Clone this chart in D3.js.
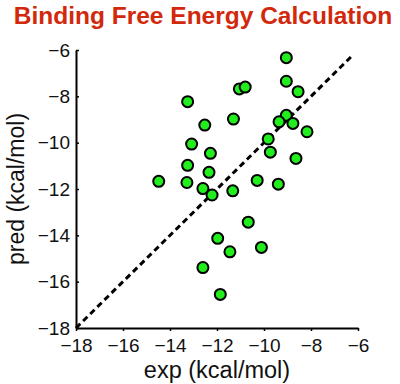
<!DOCTYPE html>
<html>
<head>
<meta charset="utf-8">
<script src="https://cdn.jsdelivr.net/npm/d3@7"></script>
<style>
  body { margin: 0; background: #fff; }
  svg { display: block; font-family: "Liberation Sans", Arial, sans-serif; }
</style>
</head>
<body>
<div id="wrapper"></div>
<script>
// experimental vs predicted binding free energies (kcal/mol)
const expValues = [-13.25, -12.52, -13.08, -12.28, -13.25, -12.34, -14.48, -13.28,
  -12.60, -12.21, -11.33, -9.05, -9.05, -8.55, -11.05, -10.80, -11.30, -9.05,
  -9.36, -8.77, -8.17, -9.82, -9.73, -8.64, -10.29, -9.39, -11.97, -11.45,
  -12.60, -11.86, -10.67, -10.11];
const predValues = [-8.23, -9.24, -10.06, -10.46, -10.98, -11.28, -11.67, -11.72,
  -11.98, -12.26, -12.08, -6.33, -7.35, -7.80, -7.68, -7.60, -8.98, -8.82,
  -9.10, -9.17, -9.53, -9.84, -10.41, -10.68, -11.63, -11.79, -14.13, -14.71,
  -15.39, -16.55, -13.43, -14.52];
const tickValues = [-18, -16, -14, -12, -10, -8, -6];
const diagonal = [-18, -6.2];

const dimensions = {
  width: 400,
  height: 384,
  margin: { top: 50, right: 42, bottom: 56, left: 76 },
};
dimensions.boundedWidth = dimensions.width - dimensions.margin.left - dimensions.margin.right;
dimensions.boundedHeight = dimensions.height - dimensions.margin.top - dimensions.margin.bottom;

const wrapper = d3.select("#wrapper").append("svg")
  .attr("width", dimensions.width)
  .attr("height", dimensions.height);

const bounds = wrapper.append("g")
  .attr("transform", `translate(${dimensions.margin.left},${dimensions.margin.top})`);

const xScale = d3.scaleLinear().domain([-18, -6]).range([0, dimensions.boundedWidth]);
const yScale = d3.scaleLinear().domain([-18, -6]).range([dimensions.boundedHeight, 0]);

// title
wrapper.append("text")
  .attr("x", 203)
  .attr("y", 24)
  .attr("text-anchor", "middle")
  .attr("fill", "#d2280c")
  .style("font-size", "24.5px")
  .style("font-weight", "bold")
  .text("Binding Free Energy Calculation");

// dashed y = x line
bounds.append("line")
  .attr("x1", xScale(diagonal[0])).attr("y1", yScale(diagonal[0]))
  .attr("x2", xScale(diagonal[1])).attr("y2", yScale(diagonal[1]))
  .attr("stroke", "black")
  .attr("stroke-width", 3)
  .attr("stroke-dasharray", "6,4");

// points
const points = expValues.map((d, i) => ({ exp: d, pred: predValues[i] }));
bounds.selectAll("circle")
  .data(points)
  .enter().append("circle")
  .attr("cx", d => xScale(d.exp))
  .attr("cy", d => yScale(d.pred))
  .attr("r", 5.5)
  .attr("fill", "#22ee1e")
  .attr("stroke", "black")
  .attr("stroke-width", 2);

// axes
const xAxis = bounds.append("g")
  .attr("transform", `translate(0,${dimensions.boundedHeight})`)
  .call(d3.axisBottom(xScale).tickValues(tickValues).tickSize(3).tickPadding(3)
    .tickSizeOuter(0).tickFormat(d3.format("d")));
const yAxis = bounds.append("g")
  .call(d3.axisLeft(yScale).tickValues(tickValues).tickSize(-3).tickPadding(4)
    .tickSizeOuter(0).tickFormat(d3.format("d")));

[xAxis, yAxis].forEach(ax => {
  ax.select(".domain").attr("stroke-width", 2);
  ax.selectAll(".tick line").attr("stroke-width", 1.5);
  ax.selectAll(".tick text")
    .style("font-size", "19px")
    .style("font-family", "Liberation Sans, Arial, sans-serif")
    .attr("fill", "#111");
});
yAxis.selectAll(".tick text").attr("dx", "-2");
xAxis.selectAll(".tick text").attr("dy", "0.95em");

// axis labels
wrapper.append("text")
  .attr("x", dimensions.margin.left + dimensions.boundedWidth / 2)
  .attr("y", 378)
  .attr("text-anchor", "middle")
  .style("font-size", "23.5px")
  .attr("fill", "#111")
  .text("exp (kcal/mol)");

wrapper.append("text")
  .attr("transform", `translate(24,${dimensions.margin.top + dimensions.boundedHeight / 2}) rotate(-90)`)
  .attr("text-anchor", "middle")
  .style("font-size", "23px")
  .attr("fill", "#111")
  .text("pred (kcal/mol)");
</script>
</body>
</html>
